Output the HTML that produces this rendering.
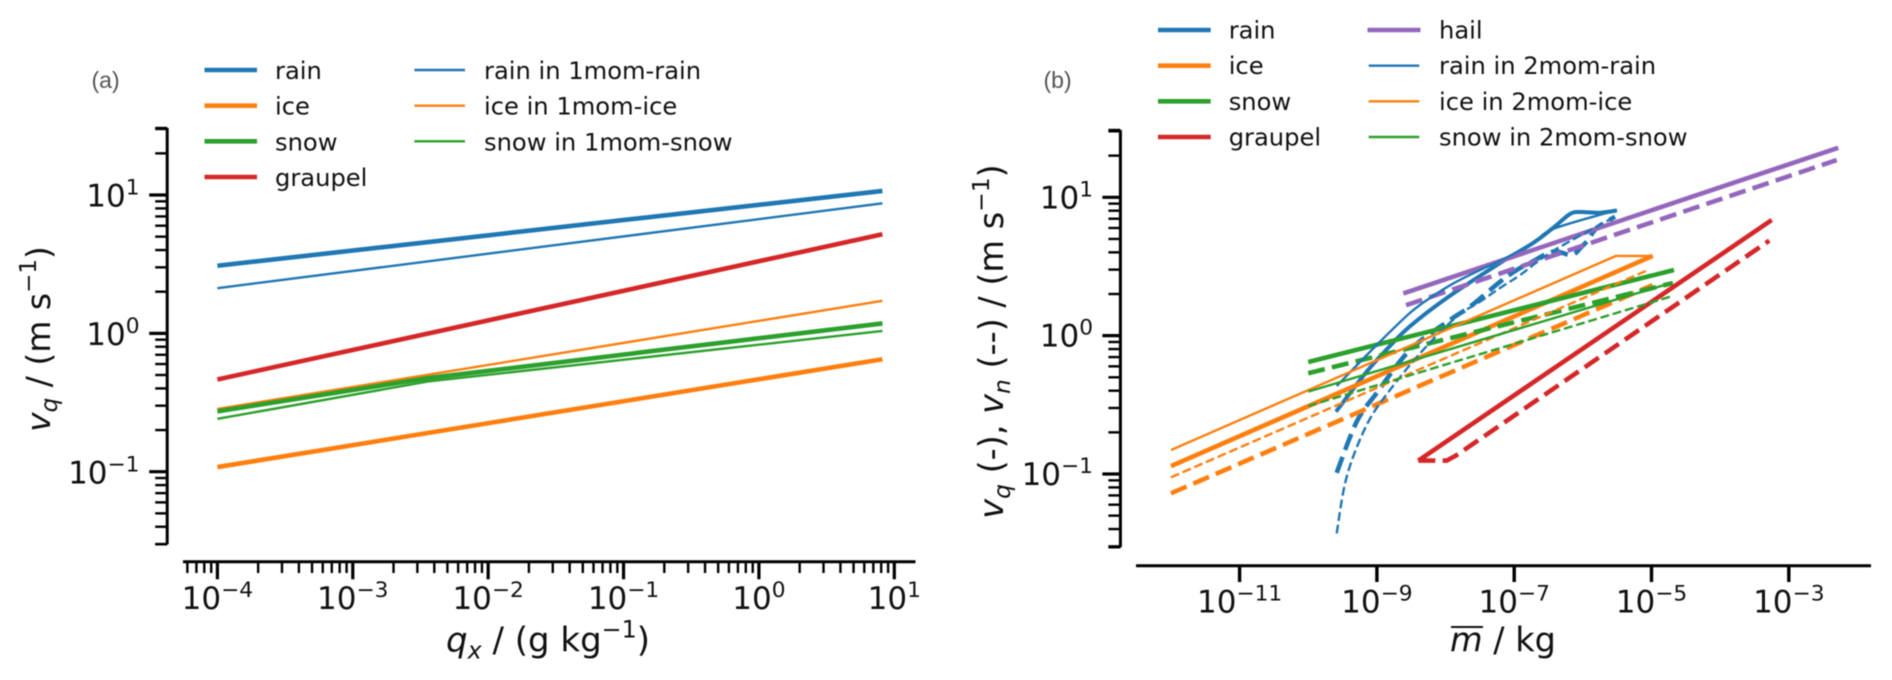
<!DOCTYPE html>
<html>
<head>
<meta charset="utf-8">
<title>Fall velocities</title>
<style>
html,body{margin:0;padding:0;background:#fff;width:1892px;height:680px;overflow:hidden}
svg{display:block;filter:blur(0.45px)}
text{font-family:"DejaVu Sans","Liberation Sans",sans-serif;fill:#111}
</style>
</head>
<body>
<svg id="chart" xmlns="http://www.w3.org/2000/svg" width="1892" height="680" viewBox="0 0 1892 680">
  <rect x="0" y="0" width="1892" height="680" fill="#fff"/>

  <g id="panel-a"></g>
  <g id="panel-b"></g>

  <text x="91.5" y="88" style="font-family:'Liberation Sans',sans-serif;font-size:23px;fill:#555">(a)</text>
  <text x="1043.5" y="88" style="font-family:'Liberation Sans',sans-serif;font-size:23px;fill:#555">(b)</text>

  <text transform="translate(50,339) rotate(-90)" text-anchor="middle" font-size="33"><tspan font-style="italic">v</tspan><tspan font-style="italic" font-size="23" dy="7">q</tspan><tspan dy="-7"> / (m s</tspan><tspan font-size="23" dy="-14">−1</tspan><tspan dy="14">)</tspan></text>
  <text x="548" y="651.7" text-anchor="middle" font-size="34"><tspan font-style="italic">q</tspan><tspan font-style="italic" font-size="23.8" dy="7">x</tspan><tspan dy="-7"> / (g kg</tspan><tspan font-size="23.8" dy="-14">−1</tspan><tspan dy="14">)</tspan></text>

  <text transform="translate(1003,341.5) rotate(-90)" text-anchor="middle" font-size="33.5"><tspan font-style="italic">v</tspan><tspan font-style="italic" font-size="23.4" dy="7">q</tspan><tspan dy="-7"> (-), </tspan><tspan font-style="italic">v</tspan><tspan font-style="italic" font-size="23.4" dy="7">n</tspan><tspan dy="-7"> (--) / (m s</tspan><tspan font-size="23.4" dy="-14">−1</tspan><tspan dy="14">)</tspan></text>
  <text x="1450" y="651.7" font-size="33.5"><tspan font-style="italic">m</tspan> / kg</text>
  <line x1="1451" x2="1483" y1="627" y2="627" stroke="#111" stroke-width="2"/>

  <g font-size="24.2">
    <line x1="204.5" x2="257" y1="70" y2="70" stroke="#1f77b4" stroke-width="4.6"/>
    <text x="275" y="79">rain</text>
    <line x1="204.5" x2="257" y1="105.7" y2="105.7" stroke="#ff7f0e" stroke-width="4.6"/>
    <text x="275" y="114.7">ice</text>
    <line x1="204.5" x2="257" y1="141.3" y2="141.3" stroke="#2ca02c" stroke-width="4.6"/>
    <text x="275" y="150.3">snow</text>
    <line x1="204.5" x2="257" y1="177" y2="177" stroke="#d62728" stroke-width="4.6"/>
    <text x="275" y="186">graupel</text>
    <line x1="414.4" x2="465" y1="70" y2="70" stroke="#1f77b4" stroke-width="2.4"/>
    <text x="484" y="79">rain in 1mom-rain</text>
    <line x1="414.4" x2="465" y1="105.7" y2="105.7" stroke="#ff7f0e" stroke-width="2.4"/>
    <text x="484" y="114.7">ice in 1mom-ice</text>
    <line x1="414.4" x2="465" y1="141.3" y2="141.3" stroke="#2ca02c" stroke-width="2.4"/>
    <text x="484" y="150.3">snow in 1mom-snow</text>
  </g>

  <g font-size="24.2">
    <line x1="1158" x2="1210.7" y1="30" y2="30" stroke="#1f77b4" stroke-width="4.6"/>
    <text x="1228.7" y="38.5">rain</text>
    <line x1="1158" x2="1210.7" y1="65.7" y2="65.7" stroke="#ff7f0e" stroke-width="4.6"/>
    <text x="1228.7" y="74.2">ice</text>
    <line x1="1158" x2="1210.7" y1="101.3" y2="101.3" stroke="#2ca02c" stroke-width="4.6"/>
    <text x="1228.7" y="109.8">snow</text>
    <line x1="1158" x2="1210.7" y1="137" y2="137" stroke="#d62728" stroke-width="4.6"/>
    <text x="1228.7" y="145.5">graupel</text>
    <line x1="1367.5" x2="1420.5" y1="30" y2="30" stroke="#9467bd" stroke-width="4.6"/>
    <text x="1439" y="38.5">hail</text>
    <line x1="1368.7" x2="1419.3" y1="65.7" y2="65.7" stroke="#1f77b4" stroke-width="2.4"/>
    <text x="1439" y="74.2">rain in 2mom-rain</text>
    <line x1="1368.7" x2="1419.3" y1="101.3" y2="101.3" stroke="#ff7f0e" stroke-width="2.4"/>
    <text x="1439" y="109.8">ice in 2mom-ice</text>
    <line x1="1368.7" x2="1419.3" y1="137" y2="137" stroke="#2ca02c" stroke-width="2.4"/>
    <text x="1439" y="145.5">snow in 2mom-snow</text>
  </g>
</svg>

<script>
// ---- Panel (a): q_x in g/kg, v_q in m/s ----
const qEnds = [1e-4, 8.17];
const qKinked = [1e-4, 3.6e-3, 8.17];
const aRainV = [3.08, 10.7];
const aIceV = [0.108, 0.65];
const aSnowV = [0.273, 0.475, 1.18];
const aGraupelV = [0.464, 5.2];
const aRain1momV = [2.12, 8.7];
const aIce1momV = [0.284, 1.72];
const aSnow1momV = [0.241, 0.449, 1.04];
const aXTickExponents = [-4, -3, -2, -1, 0, 1];
const aXTickLabels = ['−4', '−3', '−2', '−1', '0', '1'];
const aYTickExponents = [-1, 0, 1];
const aYTickLabels = ['−1', '0', '1'];

// ---- Panel (b): log10 of mean mass in kg, velocity in m/s ----
const bIceSolidLogM = [-12, -4.983];
const bIceSolidV = [0.114, 3.77];
const bIceDashLogM = [-12, -4.983];
const bIceDashV = [0.0725, 2.32];
const bIce2momSolidLogM = [-12, -5.517, -4.983];
const bIce2momSolidV = [0.149, 3.77, 3.77];
const bIce2momDashLogM = [-12, -5.051];
const bIce2momDashV = [0.0946, 2.98];

const bSnowSolidLogM = [-10, -4.673];
const bSnowSolidV = [0.645, 2.98];
const bSnowDashLogM = [-10, -4.69];
const bSnowDashV = [0.535, 2.40];
const bSnow2momSolidLogM = [-10, -4.69];
const bSnow2momSolidV = [0.394, 2.42];
const bSnow2momDashLogM = [-10, -4.73];
const bSnow2momDashV = [0.31, 1.91];

const bHailSolidLogM = [-8.615, -2.28];
const bHailSolidV = [2.02, 22.8];
const bHailDashLogM = [-8.576, -2.302];
const bHailDashV = [1.66, 18.6];

const bGraupelSolidLogM = [-8.397, -3.249];
const bGraupelSolidV = [0.125, 6.85];
const bGraupelDashLogM = [-8.397, -7.983, -7.838, -3.284];
const bGraupelDashV = [0.125, 0.125, 0.137, 4.86];

const bRainSolidLogM = [-9.596, -9.149, -8.838, -8.518, -7.964, -7.207, -6.726, -6.435, -6.187, -6.042, -5.75, -5.503];
const bRainSolidV = [0.282, 0.549, 0.814, 1.17, 1.90, 3.35, 4.67, 6.0, 7.57, 7.83, 7.74, 8.03];
const bRain2momSolidLogM = [-9.586, -9.003, -8.518, -8.227, -7.891, -7.498, -7.207, -6.726, -6.435, -5.604];
const bRain2momSolidV = [0.432, 0.856, 1.46, 1.87, 2.38, 2.98, 3.47, 4.67, 5.90, 7.83];
const bRainDashLogM = [-9.586, -9.294, -9.003, -8.518, -7.935, -7.644, -7.207, -6.964, -6.77, -6.435, -6.162, -6.017, -5.925, -5.798, -5.532];
const bRainDashV = [0.102, 0.239, 0.385, 0.787, 1.30, 1.62, 2.45, 2.98, 3.35, 4.05, 3.83, 4.40, 4.91, 6.0, 7.24];
const bRain2momDashLogM = [-9.586, -9.44, -9.149, -8.809, -8.328, -7.838, -7.498, -7.207, -6.915, -6.435, -5.532];
const bRain2momDashV = [0.0372, 0.0955, 0.226, 0.405, 0.787, 1.37, 1.76, 2.21, 2.74, 4.09, 7.24];

const bXTickExponents = [-11, -9, -7, -5, -3];
const bXTickLabels = ['−11', '−9', '−7', '−5', '−3'];
const bYTickExponents = [-1, 0, 1];
const bYTickLabels = ['−1', '0', '1'];

// ---- Axis functions ----
const SVGNS = 'http://www.w3.org/2000/svg';
function xA(q) { return 217.4 + (Math.log10(q) + 4) * 135.38; }
function yA(v) { return 195 + (1 - Math.log10(v)) * 138.35; }
function xB(logM) { return 1239.6 + (logM + 11) * 68.65; }
function yB(v) { return 197.3 + (1 - Math.log10(v)) * 138.35; }

const BLUE = '#1f77b4', ORANGE = '#ff7f0e', GREEN = '#2ca02c', RED = '#d62728', PURPLE = '#9467bd';
const THICK = 4.6, THIN = 2.4;
const INK = '#000';

function drawSeries(parent, xs, ys, xf, yf, color, width, dashed, name, smooth) {
  const el = document.createElementNS(SVGNS, 'path');
  
  
  const pts = xs.map(function (x, i) { return [xf(x), yf(ys[i])]; });
  let d = 'M' + pts[0][0].toFixed(2) + ' ' + pts[0][1].toFixed(2);
  for (let i = 1; i < pts.length; i++) {
    if (smooth) {
      const p0 = pts[Math.max(i - 2, 0)], p1 = pts[i - 1], p2 = pts[i], p3 = pts[Math.min(i + 1, pts.length - 1)];
      const c1x = p1[0] + (p2[0] - p0[0]) / 6, c1y = p1[1] + (p2[1] - p0[1]) / 6;
      const c2x = p2[0] - (p3[0] - p1[0]) / 6, c2y = p2[1] - (p3[1] - p1[1]) / 6;
      d += 'C' + c1x.toFixed(2) + ' ' + c1y.toFixed(2) + ' ' + c2x.toFixed(2) + ' ' + c2y.toFixed(2) + ' ' + p2[0].toFixed(2) + ' ' + p2[1].toFixed(2);
    } else {
      d += 'L' + pts[i][0].toFixed(2) + ' ' + pts[i][1].toFixed(2);
    }
  }
  el.setAttribute('d', d);
  el.setAttribute('fill', 'none');
  el.setAttribute('stroke', color);
  el.setAttribute('stroke-width', width);
  el.setAttribute('stroke-linejoin', 'round');
  if (dashed) {
    el.setAttribute('stroke-dasharray', (3.7 * width).toFixed(2) + ' ' + (1.6 * width).toFixed(2));
  }
  parent.appendChild(el);
}

function drawRule(parent, x1, y1, x2, y2, width, name) {
  const el = document.createElementNS(SVGNS, 'line');
  
  
  el.setAttribute('x1', x1);
  el.setAttribute('y1', y1);
  el.setAttribute('x2', x2);
  el.setAttribute('y2', y2);
  el.setAttribute('stroke', INK);
  el.setAttribute('stroke-width', width);
  parent.appendChild(el);
}

function drawPowerLabel(parent, x, y, anchor, exponent, name) {
  const el = document.createElementNS(SVGNS, 'text');
  
  
  el.setAttribute('x', x);
  el.setAttribute('y', y);
  el.setAttribute('text-anchor', anchor);
  el.setAttribute('font-size', '31');
  const base = document.createElementNS(SVGNS, 'tspan');
  base.textContent = '10';
  el.appendChild(base);
  const sup = document.createElementNS(SVGNS, 'tspan');
  sup.setAttribute('font-size', '21.7');
  sup.setAttribute('dy', '-12');
  sup.textContent = exponent;
  el.appendChild(sup);
  parent.appendChild(el);
}

function drawYAxis(parent, spineX, top, bottom, yf, exps, labels, labelRight, labelOffset, prefix) {
  drawRule(parent, spineX, top, spineX, bottom, 3, prefix + '-y-axis-spine');
  for (let d = -2; d <= 1; d++) {
    for (let k = 2; k <= 9; k++) {
      const py = yf(k * Math.pow(10, d));
      if (py < top - 1 || py > bottom + 1) continue;
      drawRule(parent, spineX - 12, py, spineX, py, 2.4, prefix + '-y-minor-tick');
    }
  }
  exps.forEach(function (e, i) {
    const py = yf(Math.pow(10, e));
    drawRule(parent, spineX - 18, py, spineX, py, 3.2, prefix + '-y-major-tick');
    drawPowerLabel(parent, labelRight, py + labelOffset, 'end', labels[i], prefix + '-y-tick-label');
  });
  drawRule(parent, spineX - 12, top, spineX, top, 2.4, prefix + '-y-axis-top-cap');
  drawRule(parent, spineX - 12, bottom, spineX, bottom, 2.4, prefix + '-y-axis-bottom-cap');
}

const gA = document.getElementById('panel-a');
const gB = document.getElementById('panel-b');

// ---- Panel (a) axes ----
drawYAxis(gA, 167.2, 128, 544.3, yA, aYTickExponents, aYTickLabels, 139.5, 11.7, 'panel-a');
drawRule(gA, 183, 561.7, 915.5, 561.7, 3, 'panel-a-x-axis-spine');
for (let d = -5; d <= 1; d++) {
  for (let k = 2; k <= 9; k++) {
    const px = xA(k * Math.pow(10, d));
    if (px < 183 || px > 915.5) continue;
    drawRule(gA, px, 561.7, px, 573, 2.4, 'panel-a-x-minor-tick');
  }
}
aXTickExponents.forEach(function (e, i) {
  const px = xA(Math.pow(10, e));
  drawRule(gA, px, 561.7, px, 579.3, 3.2, 'panel-a-x-major-tick');
  drawPowerLabel(gA, px, 609, 'middle', aXTickLabels[i], 'panel-a-x-tick-label');
});

// ---- Panel (a) series ----
drawSeries(gA, qEnds, aRainV, xA, yA, BLUE, THICK, false, 'panel-a-rain-line', false);
drawSeries(gA, qEnds, aIceV, xA, yA, ORANGE, THICK, false, 'panel-a-ice-line', false);
drawSeries(gA, qEnds, aIce1momV, xA, yA, ORANGE, THIN, false, 'panel-a-ice-1mom-line', false);
drawSeries(gA, qKinked, aSnowV, xA, yA, GREEN, THICK, false, 'panel-a-snow-line', false);
drawSeries(gA, qEnds, aGraupelV, xA, yA, RED, THICK, false, 'panel-a-graupel-line', false);
drawSeries(gA, qEnds, aRain1momV, xA, yA, BLUE, THIN, false, 'panel-a-rain-1mom-line', false);
drawSeries(gA, qKinked, aSnow1momV, xA, yA, GREEN, THIN, false, 'panel-a-snow-1mom-line', false);

// ---- Panel (b) axes ----
drawYAxis(gB, 1120.4, 130, 547.3, yB, bYTickExponents, bYTickLabels, 1093, 11, 'panel-b');
drawRule(gB, 1136, 565.7, 1871, 565.7, 3, 'panel-b-x-axis-spine');
bXTickExponents.forEach(function (e, i) {
  const px = xB(e);
  drawRule(gB, px, 565.7, px, 582, 3.4, 'panel-b-x-major-tick');
  drawPowerLabel(gB, px, 612.7, 'middle', bXTickLabels[i], 'panel-b-x-tick-label');
});

// ---- Panel (b) series ----
drawSeries(gB, bRainSolidLogM, bRainSolidV, xB, yB, BLUE, THICK - 0.6, false, 'panel-b-rain-solid', true);
drawSeries(gB, bRainDashLogM, bRainDashV, xB, yB, BLUE, THICK, true, 'panel-b-rain-dashed', true);
drawSeries(gB, bIceSolidLogM, bIceSolidV, xB, yB, ORANGE, THICK, false, 'panel-b-ice-solid', false);
drawSeries(gB, bIceDashLogM, bIceDashV, xB, yB, ORANGE, THICK, true, 'panel-b-ice-dashed', false);
drawSeries(gB, bSnowSolidLogM, bSnowSolidV, xB, yB, GREEN, THICK, false, 'panel-b-snow-solid', false);
drawSeries(gB, bSnowDashLogM, bSnowDashV, xB, yB, GREEN, THICK, true, 'panel-b-snow-dashed', false);
drawSeries(gB, bGraupelSolidLogM, bGraupelSolidV, xB, yB, RED, THICK, false, 'panel-b-graupel-solid', false);
drawSeries(gB, bGraupelDashLogM, bGraupelDashV, xB, yB, RED, THICK, true, 'panel-b-graupel-dashed', false);
drawSeries(gB, bHailSolidLogM, bHailSolidV, xB, yB, PURPLE, THICK, false, 'panel-b-hail-solid', false);
drawSeries(gB, bHailDashLogM, bHailDashV, xB, yB, PURPLE, THICK, true, 'panel-b-hail-dashed', false);
drawSeries(gB, bRain2momSolidLogM, bRain2momSolidV, xB, yB, BLUE, THIN, false, 'panel-b-rain-2mom-solid', true);
drawSeries(gB, bRain2momDashLogM, bRain2momDashV, xB, yB, BLUE, THIN, true, 'panel-b-rain-2mom-dashed', true);
drawSeries(gB, bIce2momSolidLogM, bIce2momSolidV, xB, yB, ORANGE, THIN, false, 'panel-b-ice-2mom-solid', false);
drawSeries(gB, bIce2momDashLogM, bIce2momDashV, xB, yB, ORANGE, THIN, true, 'panel-b-ice-2mom-dashed', false);
drawSeries(gB, bSnow2momSolidLogM, bSnow2momSolidV, xB, yB, GREEN, THIN, false, 'panel-b-snow-2mom-solid', false);
drawSeries(gB, bSnow2momDashLogM, bSnow2momDashV, xB, yB, GREEN, THIN, true, 'panel-b-snow-2mom-dashed', false);
</script>
</body>
</html>
